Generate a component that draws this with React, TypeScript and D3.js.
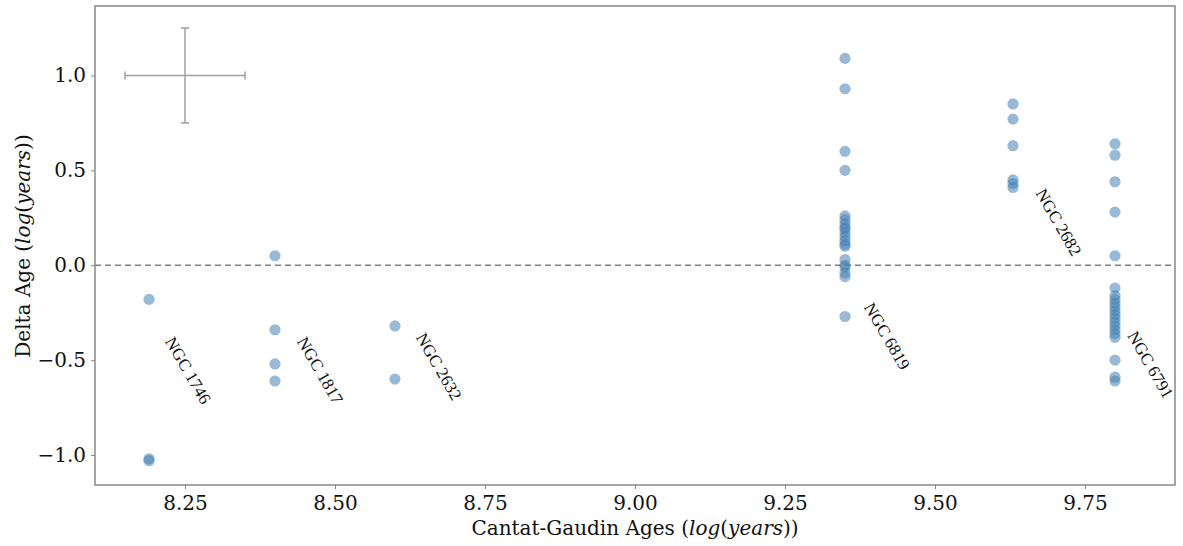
import React, {useEffect, useRef} from 'react';
import * as d3 from 'd3';

// cluster names and their Cantat-Gaudin log ages
const clusters = ['NGC 1746', 'NGC 1817', 'NGC 2632', 'NGC 6819', 'NGC 2682', 'NGC 6791'];
const cgAges = [8.19, 8.40, 8.60, 9.35, 9.63, 9.80];

// delta ages for each cluster (same order as above)
const deltaAges = [
    [-0.18, -1.02, -1.03],
    [0.05, -0.34, -0.52, -0.61],
    [-0.32, -0.60],
    [1.09, 0.93, 0.60, 0.50, 0.26, 0.24, 0.22, 0.20, 0.19, 0.17, 0.15, 0.13, 0.11, 0.10,
        0.03, 0.00, -0.01, -0.04, -0.06, -0.27],
    [0.85, 0.77, 0.63, 0.45, 0.43, 0.41],
    [0.64, 0.58, 0.44, 0.28, 0.05, -0.12, -0.16, -0.18, -0.20, -0.22, -0.24, -0.26,
        -0.28, -0.30, -0.32, -0.34, -0.36, -0.38, -0.50, -0.59, -0.61],
];

// where the cluster names sit (data coords)
const labelX = [8.216, 8.436, 8.634, 9.381, 9.667, 9.820];
const labelY = [-0.40, -0.40, -0.38, -0.22, 0.38, -0.37];

// typical error bar shown top-left
const errCenter = [8.25, 1.0];
const errX = 0.1;
const errY = 0.25;

const xTicks = [8.25, 8.5, 8.75, 9.0, 9.25, 9.5, 9.75];
const yTicks = [-1.0, -0.5, 0.0, 0.5, 1.0];

function App() {
    const ref = useRef<SVGSVGElement>(null);

    const width = 1183;
    const height = 546;
    const margin = {top: 6, right: 8, bottom: 61, left: 95};

    useEffect(() => {
        const svg = d3.select(ref.current);
        svg.selectAll('*').remove();

        const x = d3.scaleLinear().domain([8.10, 9.9]).range([margin.left, width - margin.right]);
        const y = d3.scaleLinear().domain([-1.158, 1.366]).range([height - margin.bottom, margin.top]);

        const font = '"DejaVu Serif", serif';
        const labelFont = '"Liberation Serif", serif';
        const minus = (v: number) => d3.format('.1f')(v).replace('-', '\u2212');

        // zero line
        svg.append('line')
            .attr('x1', x.range()[0]).attr('x2', x.range()[1])
            .attr('y1', y(0)).attr('y2', y(0))
            .style('stroke', '#808080')
            .style('stroke-width', 1.5)
            .style('stroke-dasharray', '6,4');

        // error bar
        const eb = svg.append('g').style('stroke', '#a0a0a0').style('stroke-width', 1.5);
        eb.append('line')
            .attr('x1', x(errCenter[0] - errX)).attr('x2', x(errCenter[0] + errX))
            .attr('y1', y(errCenter[1])).attr('y2', y(errCenter[1]));
        eb.append('line')
            .attr('x1', x(errCenter[0])).attr('x2', x(errCenter[0]))
            .attr('y1', y(errCenter[1] - errY)).attr('y2', y(errCenter[1] + errY));
        [-errX, errX].forEach((d) => {
            eb.append('line')
                .attr('x1', x(errCenter[0] + d)).attr('x2', x(errCenter[0] + d))
                .attr('y1', y(errCenter[1]) - 4).attr('y2', y(errCenter[1]) + 4);
        });
        [-errY, errY].forEach((d) => {
            eb.append('line')
                .attr('x1', x(errCenter[0]) - 4).attr('x2', x(errCenter[0]) + 4)
                .attr('y1', y(errCenter[1] + d)).attr('y2', y(errCenter[1] + d));
        });

        // points
        const pts: [number, number][] = [];
        cgAges.forEach((a, i) => deltaAges[i].forEach((v) => pts.push([a, v])));
        svg.append('g')
            .selectAll('circle')
            .data(pts)
            .enter()
            .append('circle')
            .attr('cx', (d) => x(d[0]))
            .attr('cy', (d) => y(d[1]))
            .attr('r', 5.6)
            .style('fill', 'steelblue')
            .style('fill-opacity', 0.55);

        // cluster names
        svg.append('g')
            .selectAll('text')
            .data(clusters)
            .enter()
            .append('text')
            .attr('transform', (_, i) => `translate(${x(labelX[i])}, ${y(labelY[i])}) rotate(60)`)
            .style('font-family', labelFont)
            .style('font-size', '17px')
            .style('fill', '#111')
            .text((d) => d);

        // frame
        svg.append('rect')
            .attr('x', x.range()[0]).attr('y', y.range()[1])
            .attr('width', x.range()[1] - x.range()[0])
            .attr('height', y.range()[0] - y.range()[1])
            .style('fill', 'none')
            .style('stroke', '#888')
            .style('stroke-width', 1.5);

        // x axis
        const xa = svg.append('g')
            .attr('transform', `translate(0, ${height - margin.bottom})`)
            .call(d3.axisBottom(x).tickValues(xTicks).tickFormat(d3.format('.2f')).tickSize(4).tickPadding(7));
        xa.select('.domain').remove();
        xa.selectAll('line').style('stroke', '#888');
        xa.selectAll('text').style('font-family', font).style('font-size', '20px').style('fill', '#111');

        // y axis
        const ya = svg.append('g')
            .attr('transform', `translate(${margin.left}, 0)`)
            .call(d3.axisLeft(y).tickValues(yTicks).tickFormat((d) => minus(+d)).tickSize(4).tickPadding(5));
        ya.select('.domain').remove();
        ya.selectAll('line').style('stroke', '#888');
        ya.selectAll('text').style('font-family', font).style('font-size', '20px').style('fill', '#111');

        // axis titles
        const xt = svg.append('text')
            .attr('x', (x.range()[0] + x.range()[1]) / 2)
            .attr('y', 535)
            .attr('text-anchor', 'middle')
            .style('font-family', font)
            .style('font-size', '20px')
            .style('fill', '#111');
        xt.append('tspan').text('Cantat-Gaudin Ages (');
        xt.append('tspan').style('font-style', 'italic').text('log');
        xt.append('tspan').text('(');
        xt.append('tspan').style('font-style', 'italic').text('years');
        xt.append('tspan').text('))');

        const yt = svg.append('text')
            .attr('transform', `translate(30, 246) rotate(-90)`)
            .attr('text-anchor', 'middle')
            .style('font-family', font)
            .style('font-size', '20px')
            .style('fill', '#111');
        yt.append('tspan').text('Delta Age (');
        yt.append('tspan').style('font-style', 'italic').text('log');
        yt.append('tspan').text('(');
        yt.append('tspan').style('font-style', 'italic').text('years');
        yt.append('tspan').text('))');
    }, []);

    return (
        <svg ref={ref} width={width} height={height}
             style={{position: 'absolute', left: 0, top: 0, background: '#fff'}}/>
    );
}

export default App;
